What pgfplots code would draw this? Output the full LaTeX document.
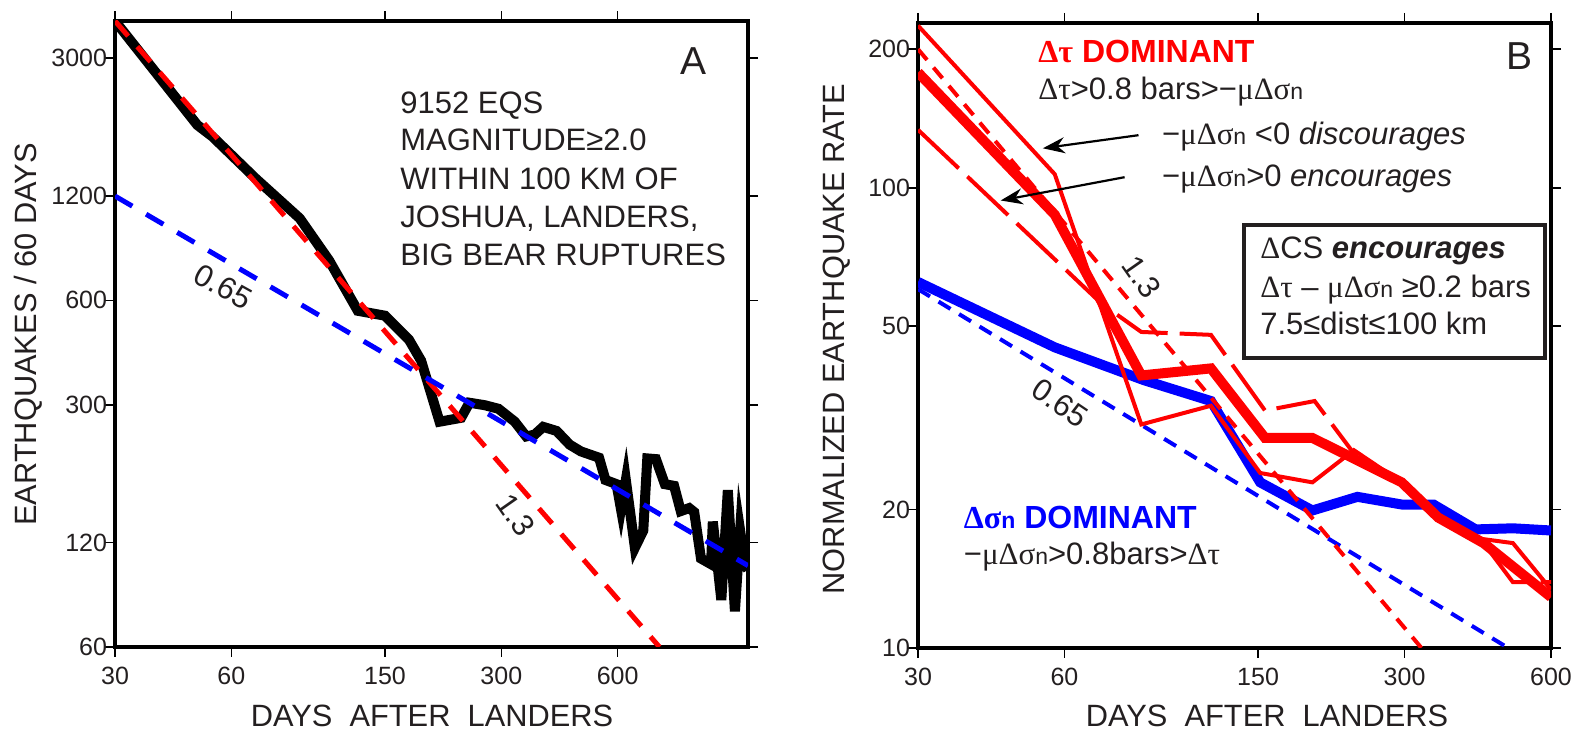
\documentclass[border=0pt]{standalone}
\usepackage{pgfplots}
\pgfplotsset{compat=1.18}
\usepackage{fontspec}
\setmainfont{Liberation Sans}
\newfontfamily\grk{Liberation Serif}
\usetikzlibrary{arrows.meta}
\definecolor{ink}{RGB}{35,31,32}
\newcommand{\g}[1]{{\grk #1}}
\newcommand{\sub}[1]{{\fontsize{11.5pt}{12pt}\selectfont #1}}
\newcommand{\txt}{\fontsize{15.5pt}{19pt}\selectfont}
\newcommand{\lab}{\fontsize{15.4pt}{18pt}\selectfont}

\pgfplotsset{
  panel/.style={
    scale only axis,
    axis line style={line width=2.3pt},
    tick style={line width=0.8pt, black},
    major tick length=5pt, tick align=outside,
    xminorticks=false, yminorticks=false,
    tick label style={font=\fontsize{12.5pt}{13pt}\selectfont, text=ink},
    yticklabel style={inner xsep=0pt, xshift=1.2pt},
    xticklabel style={inner ysep=4pt, yshift=-1pt},
    xtick={30,60,150,300,600}, xticklabels={30,60,150,300,600},
  },
}

\begin{document}
\begin{tikzpicture}
\useasboundingbox (0pt,0pt) rectangle (788.5pt,365.5pt);

% panel A
\begin{loglogaxis}[panel, at={(57.5pt,42pt)}, anchor=south west,
  width=316.5pt, height=313pt,
  xmin=30, xmax=1305, ymin=60, ymax=3840,
  ytick={60,120,300,600,1200,3000}, yticklabels={60,120,300,600,1200,3000}]
\addplot[black, line width=5pt, line join=miter] coordinates {
 (30,3840) (49,1924) (53.6,1782) (69.5,1346) (90.2,1035) (107.5,782)
 (127.5,560) (149.9,542) (173,462) (186,402) (207.6,268) (236,275)
 (248,304) (272,299) (295,292) (325,268) (348,243) (366,246) (385,259)
 (417,252) (451,230) (482,220) (537,211) (558,182) (596,177) (612,150)
 (630,182) (665,116) (699,130) (716,210) (754,209) (795,177) (840,175)
 (874,148) (919,151) (947,147) (986,108) (1047,104) (1058,138)
 (1113,82) (1157,170) (1207,76) (1245,130) (1282,104) (1305,100)};
\addplot[red, line width=2.5pt, dash pattern=on 10pt off 7pt] coordinates {(30,3840) (770,60)};
\addplot[blue, line width=2.5pt, dash pattern=on 10pt off 8pt] coordinates {(30,1200) (1305,103)};
\end{loglogaxis}

% panel B
\begin{loglogaxis}[panel, at={(459pt,41.5pt)}, anchor=south west,
  width=316.5pt, height=312.5pt,
  xmin=30, xmax=600, ymin=10, ymax=228,
  ytick={10,20,50,100,200}, yticklabels={10,20,50,100,200}]
\addplot[blue, line width=5pt] coordinates {
 (30,62.4) (57.3,45.0) (87.3,38.2) (120,34.4) (151.5,22.9) (194,19.9)
 (240,21.3) (296,20.5) (344,20.5) (420,18.1) (501,18.2) (600,18.0)};
\addplot[blue, line width=2pt, dash pattern=on 7pt off 5pt] coordinates {(30,60.2) (490,10)};
\addplot[red, line width=2pt, dash pattern=on 7pt off 5pt] coordinates {(30,200) (325,10)};
\addplot[red, line width=2pt, dash pattern=on 28pt off 6pt] coordinates {
 (30,133.6) (71.5,56) (86.3,48.6) (120,47.9) (155,32.8) (196,34.4)
 (243,25.4) (296,22.7) (352,19.2) (436,16.9) (501,13.9) (600,13.9)};
\addplot[red, line width=2pt] coordinates {
 (30,225) (57.3,107) (86.3,30.6) (120,33.6) (151.5,24.0) (194,22.9)
 (236,26.9) (296,22.9) (352,19.3) (425,17.3) (501,16.9) (600,13.4)};
\addplot[red, line width=5pt] coordinates {
 (30,178) (57.3,87.4) (86.3,39.1) (120,40.5) (155,28.6) (194,28.6)
 (296,22.9) (352,19.2) (436,16.9) (600,12.9)};
\end{loglogaxis}

\begin{scope}[x=0.5pt, y=0.5pt, every node/.style={text=ink, inner sep=0pt}]
% axis titles
\node[rotate=90, font=\lab] at (28,396.5) {EARTHQUAKES / 60 DAYS};
\node[font=\lab] at (432,15) {DAYS~~AFTER~~LANDERS};
\node[rotate=90, font=\lab] at (837,392) {NORMALIZED EARTHQUAKE RATE};
\node[font=\lab] at (1267,15) {DAYS~~AFTER~~LANDERS};

% panel A notes
\node[anchor=base, font=\fontsize{19.5pt}{20pt}\selectfont] at (693,656.4) {A};
\begin{scope}[every node/.append style={anchor=base west, font=\txt}]
\node at (400,617.3) {9152 EQS};
\node at (400,580) {MAGNITUDE≥2.0};
\node at (400,541.8) {WITHIN 100 KM OF};
\node at (400,503.1) {JOSHUA, LANDERS,};
\node at (400,465.8) {BIG BEAR RUPTURES};
\end{scope}
\node[rotate=-29, font=\txt] at (223,444.3) {0.65};
\node[rotate=-55, font=\txt] at (516,216) {1.3};

% panel B notes
\node[anchor=base, font=\fontsize{19.5pt}{20pt}\selectfont] at (1519.5,661) {B};
\node[anchor=base west, font=\fontsize{16pt}{18pt}\selectfont\bfseries, text=red] at (1038,668) {\g{Δτ} DOMINANT};
\begin{scope}[every node/.append style={anchor=base west, font=\txt}]
\node at (1038,631) {\g{Δτ}>0.8 bars>−\g{μΔσ}\sub{n}};
\node at (1161.7,586.5) {−\g{μΔσ}\sub{n} <0 \textit{discourages}};
\node at (1161.7,544.5) {−\g{μΔσ}\sub{n}>0 \textit{encourages}};
\node at (963.5,166) {−\g{μΔσ}\sub{n}>0.8bars>\g{Δτ}};
\end{scope}
\node[anchor=base west, font=\fontsize{16pt}{18pt}\selectfont\bfseries, text=blue] at (963.5,202) {\g{Δσ}\sub{n} DOMINANT};
\draw[-{Stealth[length=11pt,width=8pt]}, line width=1.1pt, black] (1138.5,595.8) -- (1042.8,582.7);
\draw[-{Stealth[length=11pt,width=8pt]}, line width=1.1pt, black] (1124.6,553.8) -- (1000.7,530.5);
\draw[line width=2pt, draw=ink, fill=white] (1243.5,506.3) rectangle (1544.8,373);
\begin{scope}[every node/.append style={anchor=base west, font=\txt}]
\node at (1259.9,472.3) {\g{Δ}CS \textbf{\textit{encourages}}};
\node at (1259.9,433.6) {\g{Δτ} – \g{μΔσ}\sub{n} ≥0.2 bars};
\node at (1259.9,396.3) {7.5≤dist≤100 km};
\end{scope}
\node[rotate=-55, font=\txt] at (1142,454) {1.3};
\node[rotate=-34, font=\txt] at (1060,328) {0.65};
\end{scope}
\end{tikzpicture}
\end{document}
